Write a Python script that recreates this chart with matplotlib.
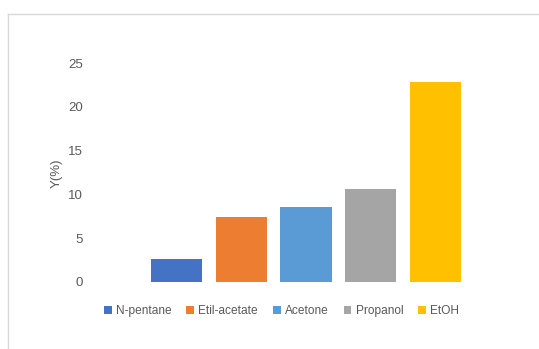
import matplotlib.pyplot as plt
from matplotlib.lines import Line2D

# Данные: выход продукта по растворителям
solvents = ['N-pentane', 'Etil-acetate', 'Acetone', 'Propanol', 'EtOH']
y_values = [2.66, 7.42, 8.56, 10.6, 22.86]
colors = ['#4472C4', '#ED7D31', '#5B9BD5', '#A5A5A5', '#FFC000']
y_ticks = [0, 5, 10, 15, 20, 25]

W, H = 539, 349
text_color = '#595959'
plt.rcParams['font.family'] = ['Liberation Sans', 'DejaVu Sans']

fig = plt.figure(figsize=(W / 100, H / 100), dpi=100)
ax = fig.add_axes([90 / W, 67 / H, 432 / W, 219 / H])

for i, (name, val, c) in enumerate(zip(solvents, y_values, colors)):
    ax.bar(i, val, width=0.79, color=c, label=name)

ax.set_xlim(-1.33, 5.33)
ax.set_ylim(0, 25)
ax.set_yticks(y_ticks)
ax.set_xticks([])
ax.tick_params(axis='y', length=0, pad=5, labelsize=9.5, labelcolor=text_color)
for s in ax.spines.values():
    s.set_visible(False)

# Подпись оси Y
fig.text(57 / W, 1 - 173 / H, 'Y(%)', rotation=90, ha='center', va='center',
         fontsize=9.5, color=text_color)

# Легенда внизу
leg = fig.legend(ncol=5, loc='center', bbox_to_anchor=(281.5 / W, 1 - 311 / H),
                 frameon=False, handlelength=0.65, handleheight=0.65,
                 handletextpad=0.35, columnspacing=1.25, fontsize=8.6)
for t in leg.get_texts():
    t.set_color(text_color)

# Рамка области диаграммы
fig.add_artist(Line2D([8 / W, 1], [1 - 13.5 / H, 1 - 13.5 / H], color='#D9D9D9', lw=1))
fig.add_artist(Line2D([8 / W, 8 / W], [0, 1 - 13.5 / H], color='#D9D9D9', lw=1))

fig.savefig('out.png', dpi=100)
